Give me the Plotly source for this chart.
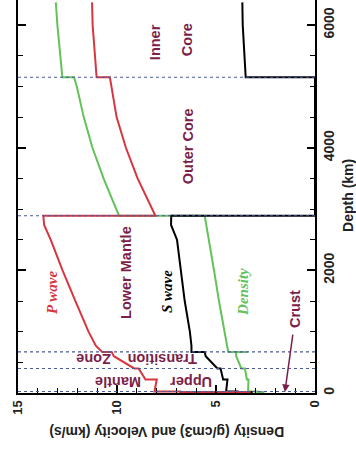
import plotly.graph_objects as go

# ---- data (depth in km, values in km/s or g/cm3) ----
vp_depth = [0, 15, 15, 24.4, 24.4, 80, 220, 220, 400, 400, 600, 670, 670, 771, 1000, 1500,
            2000, 2500, 2741, 2891, 2891, 3500, 4000, 4500, 5000, 5150, 5150, 5500, 6000, 6371]
vp = [3.3, 3.3, 6.8, 6.8, 8.11, 8.08, 7.99, 8.56, 8.91, 9.13, 10.16, 10.27, 10.75, 11.07, 11.44, 12.10,
      12.75, 13.35, 13.68, 13.72, 8.06, 8.96, 9.55, 10.02, 10.30, 10.36, 11.03, 11.12, 11.23, 11.26]

vs_depth = [0, 15, 15, 24.4, 24.4, 80, 220, 220, 400, 400, 600, 670, 670, 771, 1000, 1500,
            2000, 2500, 2741, 2891, 2891, 5150, 5150, 5500, 6000, 6371]
vs = [3.2, 3.2, 3.9, 3.9, 4.49, 4.47, 4.42, 4.64, 4.77, 4.93, 5.52, 5.57, 6.24, 6.24, 6.32, 6.58,
      6.78, 6.97, 7.27, 7.26, 0.0, 0.0, 3.50, 3.56, 3.65, 3.67]

rho_depth = [0, 15, 15, 24.4, 24.4, 80, 220, 220, 400, 400, 600, 670, 670, 670, 670, 771, 1000, 1500,
             2000, 2500, 2741, 2891, 2891, 3500, 4000, 4500, 5000, 5150, 5150, 5500, 6000, 6371]
rho = [2.6, 2.6, 2.9, 2.9, 3.38, 3.37, 3.36, 3.44, 3.54, 3.72, 3.98, 3.99, 3.40, 3.99, 4.38, 4.44, 4.58, 4.85,
       5.10, 5.35, 5.49, 5.57, 9.90, 10.68, 11.24, 11.68, 12.03, 12.17, 12.76, 12.87, 13.01, 13.09]

boundary_depths = [24.4, 400, 670, 2891, 5150]

x_ticks = [0, 5, 10, 15]
y_ticks = [0, 2000, 4000, 6000]

RED = "#d8363f"
GREEN = "#63c25a"
MAROON = "#7b1f4a"
DOT = "#4a5a9c"

fig = go.Figure()
fig.add_trace(go.Scatter(x=rho, y=rho_depth, mode="lines", line=dict(color=GREEN, width=2), showlegend=False))
fig.add_trace(go.Scatter(x=vs, y=vs_depth, mode="lines", line=dict(color="black", width=2), showlegend=False))
fig.add_trace(go.Scatter(x=vp, y=vp_depth, mode="lines", line=dict(color=RED, width=2), showlegend=False))

for d in boundary_depths:
    fig.add_shape(type="line", xref="x", yref="y", x0=15, x1=0, y0=d, y1=d,
                  line=dict(color=DOT, width=1.2, dash="dot"), layer="above")

lab = dict(family="Liberation Sans, Arial, sans-serif", size=14.5, color=MAROON, weight="bold")
ser = dict(family="Liberation Serif, Times New Roman, serif", size=15, style="italic", weight="bold")

def ann(text, x, y, angle, font):
    fig.add_annotation(text=text, x=x, y=y, xref="x", yref="y", showarrow=False,
                       textangle=angle, font=font, xanchor="center", yanchor="middle")

ann("Inner", 8.08, 5723, -90, lab)
ann("Core", 6.46, 5756, -90, lab)
ann("Outer Core", 6.41, 4027, -90, lab)
ann("Lower Mantle", 9.55, 1973, -90, lab)
ann("P wave", 13.28, 1647, -90, dict(ser, color=RED))
ann("S wave", 7.47, 1647, -90, dict(ser, color="black"))
ann("Density", 3.64, 1647, -90, dict(ser, color=GREEN))
ann("Crust", 1.01, 1370, -90, lab)
ann("Mantle", 9.95, 179, 180, lab)
ann("Upper", 6.26, 179, 180, lab)
ann("Zone", 11.19, 554, 180, lab)
ann("Transition", 7.73, 554, 180, lab)

fig.add_annotation(x=1.52, y=16, ax=1.11, ay=978, xref="x", yref="y", axref="x", ayref="y",
                   showarrow=True, arrowhead=2, arrowsize=1, arrowwidth=1.5, arrowcolor=MAROON, text="")

fig.add_annotation(text="<b>Depth (km)</b>", xref="paper", yref="paper", x=1.111, y=0.504,
                   xanchor="center", yanchor="middle",
                   showarrow=False, textangle=-90, font=dict(family="Liberation Sans, Arial", size=14, color="#222"))
fig.add_annotation(text="<b>Density (g/cm3) and Velocity (km/s)</b>", xref="paper", yref="paper",
                   x=0.502, y=-0.099, xanchor="center", yanchor="middle", showarrow=False, textangle=180,
                   font=dict(family="Liberation Sans, Arial", size=14, color="#222"))

fig.update_layout(
    width=356, height=453,
    margin=dict(l=18, r=41, t=0, b=60, autoexpand=False),
    paper_bgcolor="white", plot_bgcolor="white",
    showlegend=False,
    xaxis=dict(range=[15, 0], tickvals=x_ticks, ticktext=[str(v) for v in x_ticks],
               ticks="inside", ticklen=8, tickwidth=1.5, tickcolor="black",
               minor=dict(dtick=1, ticks="inside", ticklen=5, tickcolor="black", tickwidth=1.2),
               showline=True, linecolor="black", linewidth=2, mirror=False, automargin=False,
               showgrid=False, zeroline=False, tickangle=-90,
               tickfont=dict(family="Liberation Sans, Arial", size=13, color="#222", weight="bold")),
    yaxis=dict(range=[0, 6410], side="right", tickvals=y_ticks, ticktext=[str(v) for v in y_ticks],
               ticks="inside", ticklen=8, tickwidth=1.5, tickcolor="black",
               minor=dict(dtick=500, ticks="inside", ticklen=5, tickcolor="black", tickwidth=1.2),
               showline=True, linecolor="black", linewidth=2, mirror="allticks", automargin=False,
               showgrid=False, zeroline=False, tickangle=-90,
               tickfont=dict(family="Liberation Sans, Arial", size=14, color="#222", weight="bold")),
)

fig.write_html("out.html", config={"displayModeBar": False},
               post_script="document.body.style.margin='0';")
